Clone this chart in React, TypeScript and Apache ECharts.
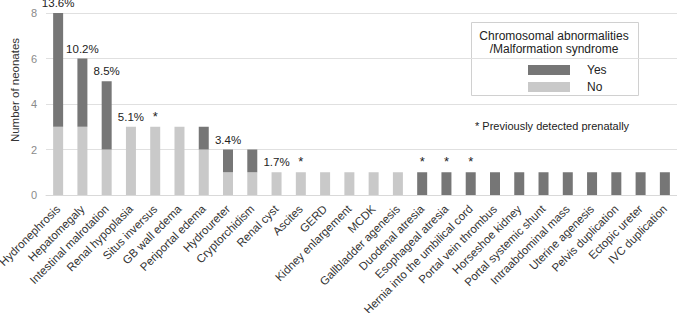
import React, { useEffect, useRef } from "react";
import * as echarts from "echarts";

const categories = [
  "Hydronephrosis", "Hepatomegaly", "Intestinal malrotation", "Renal hypoplasia",
  "Situs inversus", "GB wall edema", "Periportal edema", "Hydroureter",
  "Cryptorchidism", "Renal cyst", "Ascites", "GERD", "Kidney enlargement", "MCDK",
  "Gallbladder agenesis", "Duodenal atresia", "Esophageal atresia",
  "Hernia into the umbilical cord", "Portal vein thrombus", "Horseshoe kidney",
  "Portal systemic shunt", "Intraabdominal mass", "Uterine agenesis",
  "Pelvis duplication", "Ectopic ureter", "IVC duplication",
];
const noValues = [3, 3, 2, 3, 3, 3, 2, 1, 1, 1, 1, 1, 1, 1, 1, 0, 0, 0, 0, 0, 0, 0, 0, 0, 0, 0];
const yesValues = [5, 3, 3, 0, 0, 0, 1, 1, 1, 0, 0, 0, 0, 0, 0, 1, 1, 1, 1, 1, 1, 1, 1, 1, 1, 1];
const annotations = [
  "13.6%", "10.2%", "8.5%", "5.1%", "*", "", "", "3.4%", "", "1.7%", "*", "", "", "", "",
  "*", "*", "*", "", "", "", "", "", "", "", "",
];
const yTicks = { min: 0, max: 8, interval: 2 };

const DARK = "#767676";
const LIGHT = "#c9c9c9";
const FONT = "Liberation Sans, Arial, sans-serif";

export default function App() {
  const ref = useRef<HTMLDivElement>(null);
  useEffect(() => {
    if (!ref.current) return;
    const chart = echarts.init(ref.current, undefined, { renderer: "svg" });
    const lbl = (text: string) => ({
      show: text !== "",
      position: "top",
      distance: 4,
      formatter: text,
      color: "#222",
      fontSize: text === "*" ? 13 : 11.5,
      fontFamily: FONT,
    });
    const noData = noValues.map((v, i) => ({
      value: v,
      label: yesValues[i] === 0 ? lbl(annotations[i]) : { show: false },
    }));
    const yesData = yesValues.map((v, i) => ({
      value: v,
      label: yesValues[i] !== 0 ? lbl(annotations[i]) : { show: false },
    }));
    chart.setOption({
      animation: false,
      textStyle: { fontFamily: FONT },
      grid: { left: 46, right: 0, top: 13, bottom: 118, containLabel: false, outerBoundsMode: "none" },
      legend: {
        data: ["Yes", "No"],
        orient: "vertical",
        left: 523,
        top: 59,
        itemWidth: 42,
        itemHeight: 10,
        itemGap: 5,
        icon: "rect",
        selectedMode: false,
        textStyle: { fontSize: 12, color: "#222", padding: [0, 0, 0, 12] },
      },
      graphic: [
        {
          type: "rect",
          shape: { x: 471.5, y: 22.5, width: 167, height: 73 },
          style: { fill: "#fff", stroke: "#d0d0d0", lineWidth: 1 },
          z: -1,
        },
        {
          type: "text",
          x: 554, y: 36,
          style: { text: "Chromosomal abnormalities", align: "center", verticalAlign: "middle", fontSize: 12, fill: "#222", fontFamily: FONT },
        },
        {
          type: "text",
          x: 554, y: 49,
          style: { text: "/Malformation syndrome", align: "center", verticalAlign: "middle", fontSize: 12, fill: "#222", fontFamily: FONT },
        },
        {
          type: "text",
          x: 475, y: 126,
          style: { text: "* Previously detected prenatally", align: "left", verticalAlign: "middle", fontSize: 11, fill: "#222", fontFamily: FONT },
        },
        {
          type: "text",
          x: 15, y: 90,
          rotation: Math.PI / 2,
          style: { text: "Number of neonates", align: "center", verticalAlign: "middle", fontSize: 11.5, fill: "#333", fontFamily: FONT },
        },
      ],
      xAxis: {
        type: "category",
        data: categories,
        axisTick: { show: false },
        axisLine: { lineStyle: { color: "#d9d9d9" } },
        axisLabel: { interval: 0, rotate: 45, fontSize: 11.5, color: "#333", margin: 12, fontFamily: FONT },
      },
      yAxis: {
        type: "value",
        min: yTicks.min,
        max: yTicks.max,
        interval: yTicks.interval,
        axisLabel: { fontSize: 11, color: "#8a8a8a", margin: 9, fontFamily: FONT },
        splitLine: { lineStyle: { color: "#e0e0e0" } },
        axisLine: { show: false },
        axisTick: { show: false },
      },
      series: [
        {
          name: "No",
          type: "bar",
          stack: "total",
          barWidth: 10,
          itemStyle: { color: LIGHT },
          data: noData,
        },
        {
          name: "Yes",
          type: "bar",
          stack: "total",
          barWidth: 10,
          itemStyle: { color: DARK },
          data: yesData,
        },
      ],
    });
    return () => chart.dispose();
  }, []);
  return <div ref={ref} style={{ width: 677, height: 313, position: "absolute", left: 0, top: 0 }} />;
}
